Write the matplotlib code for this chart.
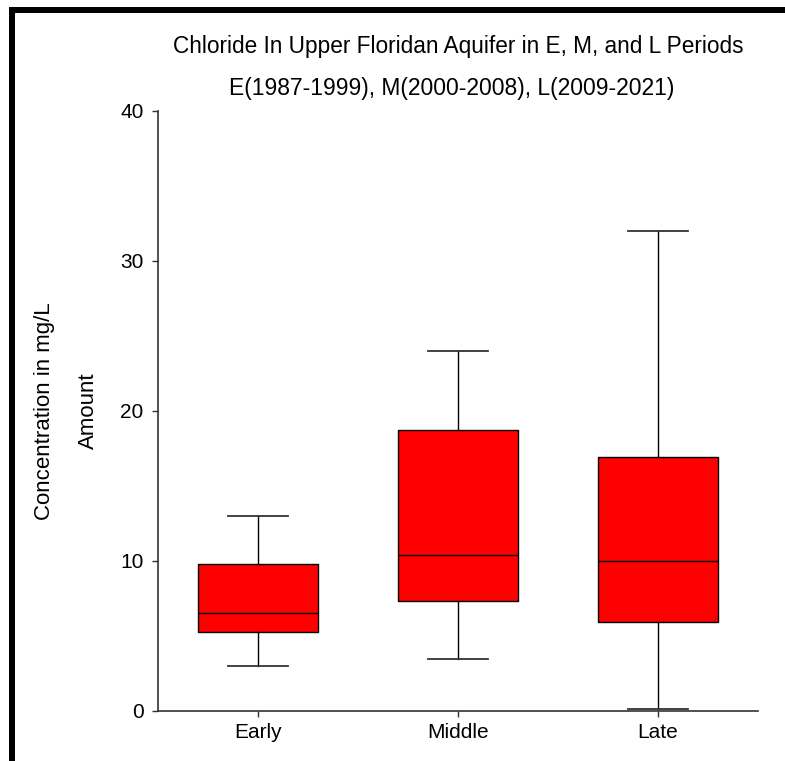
import matplotlib
matplotlib.use("Agg")
import matplotlib.pyplot as plt
from matplotlib.patches import Rectangle

plt.rcParams['font.family'] = ['Liberation Sans', 'DejaVu Sans']

periods = ["Early", "Middle", "Late"]
whis_low = [3.0, 3.5, 0.15]
q1 = [5.27, 7.35, 5.93]
medians = [6.53, 10.38, 9.98]
q3 = [9.8, 18.73, 16.95]
whis_high = [13.0, 24.0, 32.0]
yticks = [0, 10, 20, 30, 40]

stats = []
for i in range(len(periods)):
    stats.append({"label": periods[i], "whislo": whis_low[i], "q1": q1[i],
                  "med": medians[i], "q3": q3[i], "whishi": whis_high[i],
                  "fliers": []})

fig = plt.figure(figsize=(7.85, 7.61), dpi=100)
ax = fig.add_axes([158 / 785, 50 / 761, 600 / 785, 600 / 761])

ax.bxp(stats, widths=0.6, capwidths=0.3, patch_artist=True, showfliers=False,
       boxprops=dict(facecolor="#ff0000", edgecolor="black", linewidth=1),
       medianprops=dict(color="black", linewidth=1),
       whiskerprops=dict(color="black", linewidth=1),
       capprops=dict(color="#333333", linewidth=1.3))

ax.set_xlim(0.5, 3.5)
ax.set_ylim(0, 40)
ax.set_yticks(yticks)

for s in ["top", "right"]:
    ax.spines[s].set_visible(False)
for s in ["left", "bottom"]:
    ax.spines[s].set_color("#333333")
    ax.spines[s].set_linewidth(1.2)

ax.tick_params(axis="both", direction="out", length=4.5, width=1, color="#333333",
               labelsize=15)
ax.tick_params(axis="y", pad=6)
ax.tick_params(axis="x", pad=4)

# two-line axis label drawn as separate texts
fig.text(45 / 785, 1 - 411 / 761, "Concentration in mg/L", rotation=90,
         ha="center", va="center", fontsize=16)
fig.text(88 / 785, 1 - 411 / 761, "Amount", rotation=90,
         ha="center", va="center", fontsize=16)

fig.text(458 / 785, 1 - 46 / 761, "Chloride In Upper Floridan Aquifer in E, M, and L Periods",
         ha="center", va="center", fontsize=16.3)
fig.text(452 / 785, 1 - 88 / 761, "E(1987-1999), M(2000-2008), L(2009-2021)",
         ha="center", va="center", fontsize=16.5)

# thick frame on the left and top
fig.add_artist(Rectangle((9 / 785, 0), 6 / 785, 754 / 761, transform=fig.transFigure,
                         color="black", lw=0))
fig.add_artist(Rectangle((9 / 785, 748 / 761), 776 / 785, 6 / 761, transform=fig.transFigure,
                         color="black", lw=0))

fig.savefig("out.png", dpi=100)
